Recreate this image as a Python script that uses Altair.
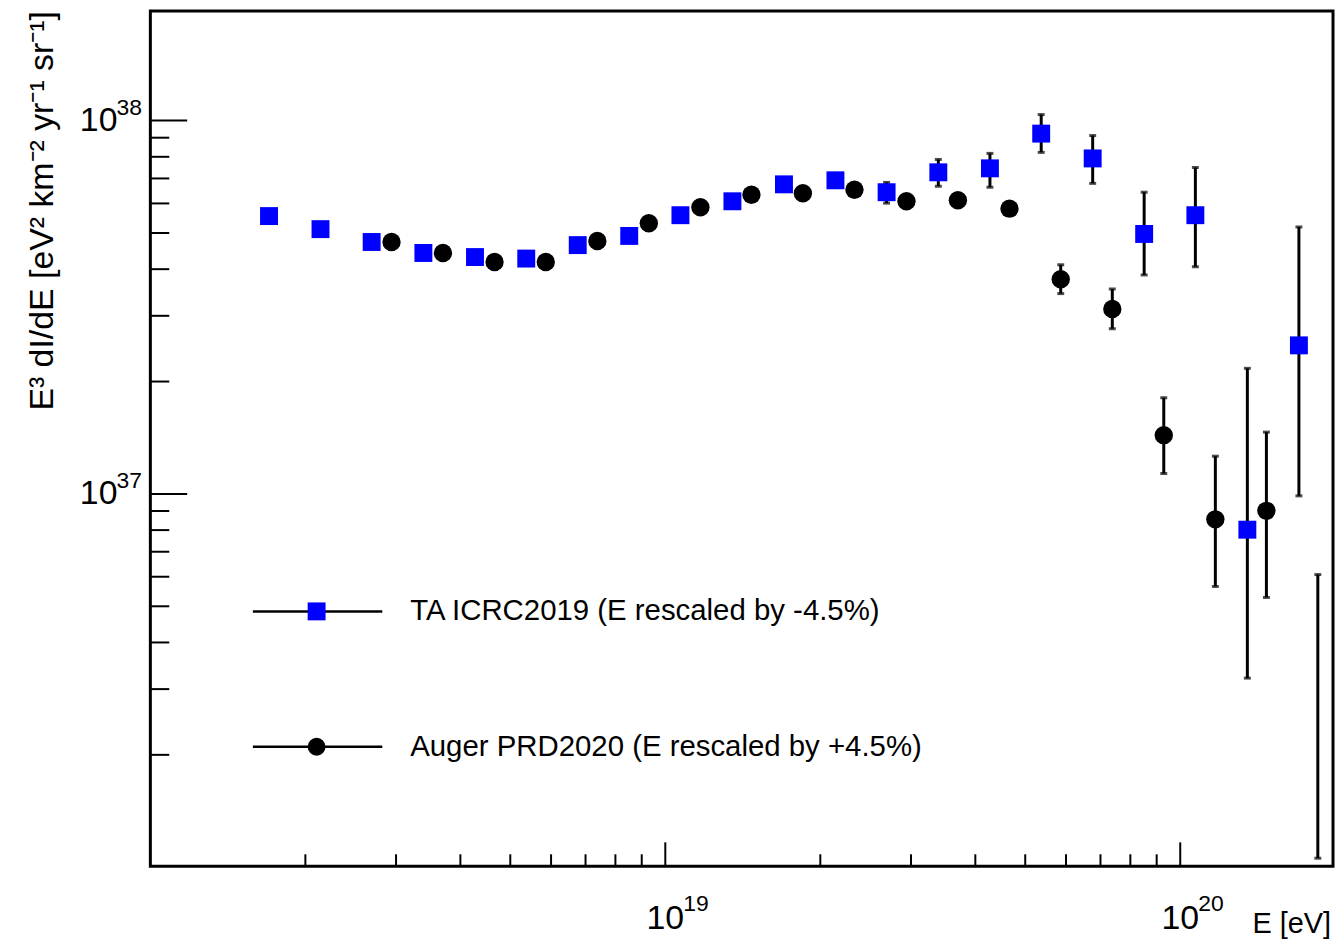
import altair as alt
import pandas as pd

# ---------------- data ----------------
ta_E = [1.70e18, 2.14e18, 2.69e18, 3.39e18, 4.27e18, 5.37e18, 6.76e18, 8.51e18,
        1.07e19, 1.35e19, 1.70e19, 2.14e19, 2.69e19, 3.39e19, 4.27e19, 5.37e19,
        6.76e19, 8.51e19, 1.07e20, 1.35e20, 1.70e20]
ta_F = [5.55e37, 5.12e37, 4.73e37, 4.42e37, 4.31e37, 4.27e37, 4.64e37, 4.91e37,
        5.58e37, 6.08e37, 6.75e37, 6.92e37, 6.43e37, 7.27e37, 7.45e37, 9.23e37,
        7.92e37, 4.97e37, 5.58e37, 8.02e36, 2.50e37]
ta_lo = [None] * 12 + [6.01e37, 6.67e37, 6.63e37, 8.22e37, 6.79e37, 3.86e37,
                       4.06e37, 3.21e36, 9.88e36]
ta_hi = [None] * 12 + [6.83e37, 7.87e37, 8.17e37, 1.038e38, 9.12e37, 6.43e37,
                       7.49e37, 2.17e37, 5.19e37]

au_E = [2.94e18, 3.70e18, 4.66e18, 5.86e18, 7.38e18, 9.29e18, 1.17e19, 1.47e19,
        1.85e19, 2.33e19, 2.94e19, 3.70e19, 4.66e19, 5.86e19, 7.38e19, 9.29e19,
        1.17e20, 1.47e20, 1.85e20]
au_F = [4.73e37, 4.42e37, 4.18e37, 4.18e37, 4.76e37, 5.31e37, 5.86e37, 6.33e37,
        6.39e37, 6.53e37, 6.08e37, 6.12e37, 5.81e37, 3.76e37, 3.13e37, 1.437e37,
        8.55e36, 9.01e36, None]
au_lo = [None] * 13 + [3.44e37, 2.77e37, 1.134e37, 5.65e36, 5.28e36, 1.057e36]
au_hi = [None] * 13 + [4.11e37, 3.54e37, 1.81e37, 1.262e37, 1.464e37, 6.08e36]

x_major = [1e19, 1e20]
x_major_base = ["10", "10"]
x_major_sup = ["19", "20"]
x_minor = [2e18, 3e18, 4e18, 5e18, 6e18, 7e18, 8e18, 9e18,
           2e19, 3e19, 4e19, 5e19, 6e19, 7e19, 8e19, 9e19]
y_major = [1e37, 1e38]
y_major_base = ["10", "10"]
y_major_sup = ["37", "38"]
y_minor = [2e36, 3e36, 4e36, 5e36, 6e36, 7e36, 8e36, 9e36,
           2e37, 3e37, 4e37, 5e37, 6e37, 7e37, 8e37, 9e37]

ta_label = "TA ICRC2019 (E rescaled by -4.5%)"
au_label = "Auger PRD2020 (E rescaled by +4.5%)"
x_title = "E [eV]"
y_title = "E³ dI/dE [eV² km⁻² yr⁻¹ sr⁻¹]"

# ---------------- layout ----------------
W, H = 1188, 859
FONT = "Liberation Sans"
BLUE = "#0000ff"

xs = alt.Scale(type="log", domain=[1e18, 1.98e20], nice=False)
ys = alt.Scale(type="log", domain=[1.006e36, 1.965e38], nice=False)

ta = pd.DataFrame({"E": ta_E, "F": ta_F, "lo": ta_lo, "hi": ta_hi})
au = pd.DataFrame({"E": au_E, "F": au_F, "lo": au_lo, "hi": au_hi})
ta_err = ta.dropna(subset=["lo"])
au_err = au.dropna(subset=["lo"])
au_pts = au.dropna(subset=["F"])


def err_layers(df):
    bar = alt.Chart(df).mark_rule(color="black", strokeWidth=3).encode(
        x=alt.X("E:Q", scale=xs, axis=None),
        y=alt.Y("lo:Q", scale=ys, axis=None),
        y2="hi:Q",
    )
    cap_lo = alt.Chart(df).mark_tick(color="black", orient="horizontal",
                                     size=7, thickness=3).encode(
        x=alt.X("E:Q", scale=xs, axis=None),
        y=alt.Y("lo:Q", scale=ys, axis=None),
    )
    cap_hi = alt.Chart(df).mark_tick(color="black", orient="horizontal",
                                     size=7, thickness=3).encode(
        x=alt.X("E:Q", scale=xs, axis=None),
        y=alt.Y("hi:Q", scale=ys, axis=None),
    )
    return [bar, cap_lo, cap_hi]


ta_pts_layer = alt.Chart(ta).mark_point(shape="square", filled=True, size=324,
                                        color=BLUE, opacity=1).encode(
    x=alt.X("E:Q", scale=xs, axis=None),
    y=alt.Y("F:Q", scale=ys, axis=None),
)
au_pts_layer = alt.Chart(au_pts).mark_point(shape="circle", filled=True, size=340,
                                            color="black", opacity=1).encode(
    x=alt.X("E:Q", scale=xs, axis=None),
    y=alt.Y("F:Q", scale=ys, axis=None),
)

# ---------------- axes drawn by hand (ROOT style: inward ticks) ----------------
xmaj_df = pd.DataFrame({"v": x_major, "base": x_major_base, "sup": x_major_sup})
xmin_df = pd.DataFrame({"v": x_minor})
ymaj_df = pd.DataFrame({"v": y_major, "base": y_major_base, "sup": y_major_sup})
ymin_df = pd.DataFrame({"v": y_minor})

xmaj_ticks = alt.Chart(xmaj_df).mark_rule(color="black", strokeWidth=2).encode(
    x=alt.X("v:Q", scale=xs, axis=None), y=alt.value(H), y2=alt.value(H - 24))
xmin_ticks = alt.Chart(xmin_df).mark_rule(color="black", strokeWidth=2).encode(
    x=alt.X("v:Q", scale=xs, axis=None), y=alt.value(H), y2=alt.value(H - 12))
ymaj_ticks = alt.Chart(ymaj_df).mark_rule(color="black", strokeWidth=2).encode(
    y=alt.Y("v:Q", scale=ys, axis=None), x=alt.value(0), x2=alt.value(37))
ymin_ticks = alt.Chart(ymin_df).mark_rule(color="black", strokeWidth=2).encode(
    y=alt.Y("v:Q", scale=ys, axis=None), x=alt.value(0), x2=alt.value(19))

xlab_base = alt.Chart(xmaj_df).mark_text(font=FONT, fontSize=34, align="center",
                                         baseline="middle", color="black").encode(
    x=alt.X("v:Q", scale=xs, axis=None), y=alt.value(H + 53), text="base:N")
xlab_sup = alt.Chart(xmaj_df).mark_text(font=FONT, fontSize=23, align="left",
                                        baseline="middle", dx=18, color="black").encode(
    x=alt.X("v:Q", scale=xs, axis=None), y=alt.value(H + 38), text="sup:N")
ylab_base = alt.Chart(ymaj_df).mark_text(font=FONT, fontSize=34, align="right",
                                         baseline="middle", color="black").encode(
    y=alt.Y("v:Q", scale=ys, axis=None), x=alt.value(-33), text="base:N")
ylab_sup = alt.Chart(ymaj_df).mark_text(font=FONT, fontSize=23, align="left",
                                        baseline="middle", dy=-13, color="black").encode(
    y=alt.Y("v:Q", scale=ys, axis=None), x=alt.value(-34), text="sup:N")

xtitle = alt.Chart(pd.DataFrame({"t": [x_title]})).mark_text(
    font=FONT, fontSize=29, align="right", baseline="middle", color="black").encode(
    x=alt.value(W - 2), y=alt.value(H + 58), text="t:N")
ytitle = alt.Chart(pd.DataFrame({"t": [y_title]})).mark_text(
    font=FONT, fontSize=34, align="right", baseline="middle", angle=270,
    color="black").encode(
    x=alt.value(-108), y=alt.value(0), text="t:N")

# ---------------- legend ----------------
def legend_entry(label, y, shape, color):
    d = pd.DataFrame({"t": [label]})
    line = alt.Chart(d).mark_rule(color="black", strokeWidth=2.5).encode(
        x=alt.value(103), x2=alt.value(233), y=alt.value(y))
    mk = alt.Chart(d).mark_point(shape=shape, filled=True, size=324, color=color,
                                 opacity=1).encode(x=alt.value(167), y=alt.value(y))
    tx = alt.Chart(d).mark_text(font=FONT, fontSize=29.5, align="left",
                                baseline="middle", color="black").encode(
        x=alt.value(261), y=alt.value(y), text="t:N")
    return [line, mk, tx]


layers = ([xmin_ticks, xmaj_ticks, ymin_ticks, ymaj_ticks,
           xlab_base, xlab_sup, ylab_base, ylab_sup, xtitle, ytitle]
          + err_layers(ta_err) + [ta_pts_layer]
          + err_layers(au_err) + [au_pts_layer]
          + legend_entry(ta_label, 603, "square", BLUE)
          + legend_entry(au_label, 739, "circle", "black"))

chart = alt.layer(*layers).properties(
    width=W, height=H,
    padding={"left": 143, "top": 1, "right": 2, "bottom": 79},
    autosize=alt.AutoSizeParams(type="none"),
    background="white",
).configure_view(stroke="black", strokeWidth=3)

chart.save("out.html", embed_options={"renderer": "svg", "actions": False})
